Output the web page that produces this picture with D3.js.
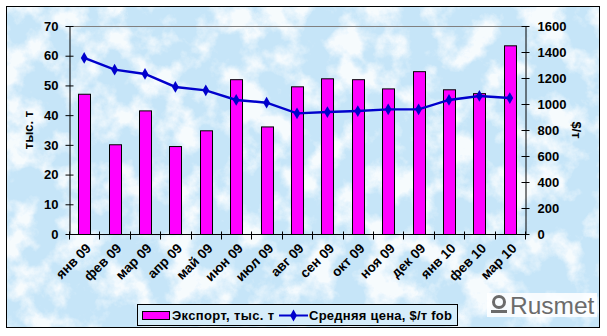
<!DOCTYPE html>
<html>
<head>
<meta charset="utf-8">
<script src="https://cdn.jsdelivr.net/npm/d3@7"></script>
<style>
  html, body { margin: 0; padding: 0; background: #fff; }
  svg { display: block; }
  text { font-family: "Liberation Sans", Arial, sans-serif; }
</style>
</head>
<body>
<svg id="chart" width="607" height="336"></svg>
<script>
// Monthly export volume (thousand tonnes) and average FOB price ($/t)
const months = ["янв 09", "фев 09", "мар 09", "апр 09", "май 09", "июн 09", "июл 09", "авг 09",
                "сен 09", "окт 09", "ноя 09", "дек 09", "янв 10", "фев 10", "мар 10"];
const exportVolume = [47.2, 30.2, 41.6, 29.6, 34.9, 52.1, 36.2, 49.7, 52.4, 52.1, 49.0, 54.8, 48.7, 47.4, 63.5];
const avgPrice = [1354, 1264, 1231, 1131, 1105, 1031, 1010, 928, 938, 946, 959, 959, 1031, 1062, 1046];
const leftTicks = [0, 10, 20, 30, 40, 50, 60, 70];
const rightTicks = [0, 200, 400, 600, 800, 1000, 1200, 1400, 1600];
const seriesNames = ["Экспорт, тыс. т", "Средняя цена, $/т fob"];

const svg = d3.select("#chart");
const frame = { x: 6, y: 6, w: 594, h: 322 };
const plot = { left: 69, right: 525, top: 26, bottom: 234 };

// Background: pale sky blue with soft white mottling
const defs = svg.append("defs");
const f = defs.append("filter").attr("id", "clouds")
  .attr("x", 0).attr("y", 0).attr("width", "100%").attr("height", "100%");
f.append("feTurbulence").attr("type", "fractalNoise")
  .attr("baseFrequency", "0.03").attr("numOctaves", 5).attr("seed", 7).attr("result", "n");
f.append("feColorMatrix").attr("in", "n").attr("type", "matrix")
  .attr("values", "0 0 0 0 1  0 0 0 0 1  0 0 0 0 1  4 0 0 0 -1.75").attr("result", "w");
f.append("feComposite").attr("in", "w").attr("in2", "SourceGraphic").attr("operator", "in");

svg.append("rect").attr("x", frame.x).attr("y", frame.y).attr("width", frame.w).attr("height", frame.h)
  .attr("fill", "#c6e5f8");
svg.append("rect").attr("x", frame.x).attr("y", frame.y).attr("width", frame.w).attr("height", frame.h)
  .attr("fill", "#c6e5f8").attr("filter", "url(#clouds)").attr("opacity", 0.85);
svg.append("rect").attr("x", frame.x + 0.5).attr("y", frame.y + 0.5).attr("width", frame.w - 1).attr("height", frame.h - 1)
  .attr("fill", "none").attr("stroke", "#000").attr("stroke-width", 1);

// Scales
const xc = d3.scalePoint().domain(months).range([plot.left, plot.right]).padding(0.5);
const yL = d3.scaleLinear().domain([0, 70]).range([plot.bottom, plot.top]);
const yR = d3.scaleLinear().domain([0, 1600]).range([plot.bottom, plot.top]);

// Top gridline
svg.append("line").attr("x1", plot.left).attr("x2", plot.right)
  .attr("y1", yL(70) + 0.5).attr("y2", yL(70) + 0.5).attr("stroke", "#808080");

// Bars
const bw = 12;
svg.append("g").selectAll("rect").data(exportVolume).join("rect")
  .attr("x", (d, i) => Math.round(xc(months[i]) - bw / 2) + 0.5)
  .attr("y", d => yL(d) + 0.5)
  .attr("width", bw)
  .attr("height", d => yL(0) - yL(d))
  .attr("fill", "#ff00ff").attr("stroke", "#000").attr("stroke-width", 1);

// Left axis
const axL = svg.append("g").attr("transform", `translate(${plot.left + 0.5},0)`)
  .call(d3.axisLeft(yL).tickValues(leftTicks).tickSizeInner(4).tickSizeOuter(0).tickPadding(7));
axL.selectAll(".tick line").attr("x1", 4);
// Right axis
const axR = svg.append("g").attr("transform", `translate(${plot.right + 0.5},0)`)
  .call(d3.axisRight(yR).tickValues(rightTicks).tickFormat(d3.format("d")).tickSizeInner(4).tickSizeOuter(0).tickPadding(8));
axR.selectAll(".tick line").attr("x1", -4);
// Bottom axis with ticks between categories
const axB = svg.append("g").attr("transform", `translate(0,${plot.bottom + 0.5})`);
axB.append("line").attr("x1", plot.left).attr("x2", plot.right + 1).attr("stroke", "#000");
const step = (plot.right - plot.left) / months.length;
axB.selectAll("line.t").data(d3.range(months.length + 1)).join("line").attr("class", "t")
  .attr("x1", i => Math.round(plot.left + i * step) + 0.5).attr("x2", i => Math.round(plot.left + i * step) + 0.5)
  .attr("y1", -3).attr("y2", 5).attr("stroke", "#000");
axB.selectAll("text").data(months).join("text")
  .attr("transform", d => `translate(${xc(d) + 1},${8}) rotate(-45)`)
  .attr("text-anchor", "end").attr("dy", "0.7em")
  .attr("font-size", 13.5).attr("font-weight", "bold").attr("fill", "#000")
  .text(d => d);

[axL, axR].forEach(a => {
  a.select(".domain").attr("stroke", "#000");
  a.selectAll(".tick line").attr("stroke", "#000");
  a.selectAll("text").attr("font-size", 13).attr("font-weight", "bold").attr("fill", "#000")
    .attr("font-family", "'Liberation Sans', Arial, sans-serif");
});

// Axis titles
svg.append("text").attr("transform", `translate(33,${(plot.top + plot.bottom) / 2}) rotate(-90)`)
  .attr("text-anchor", "middle").attr("font-size", 13).attr("font-weight", "bold").text("тыс. т");
svg.append("text").attr("transform", `translate(572,${(plot.top + plot.bottom) / 2}) rotate(90)`)
  .attr("text-anchor", "middle").attr("font-size", 13).attr("font-weight", "bold").text("$/т");

// Price line
const line = d3.line().x((d, i) => xc(months[i])).y(d => yR(d));
svg.append("path").datum(avgPrice).attr("d", line)
  .attr("fill", "none").attr("stroke", "#0000cc").attr("stroke-width", 2.4);
const diamond = d3.symbol().type(d3.symbolDiamond).size(40);
svg.append("g").selectAll("path").data(avgPrice).join("path")
  .attr("transform", (d, i) => `translate(${xc(months[i])},${yR(d)})`)
  .attr("d", diamond).attr("fill", "#0000cc");

// Legend
const lg = svg.append("g");
lg.append("rect").attr("x", 137.5).attr("y", 304.5).attr("width", 320).attr("height", 21)
  .attr("fill", "#d6edfa").attr("stroke", "#000");
lg.append("rect").attr("x", 142.5).attr("y", 311.5).attr("width", 27).attr("height", 8)
  .attr("fill", "#ff00ff").attr("stroke", "#000");
lg.append("text").attr("x", 172).attr("y", 320).attr("font-size", 13).attr("font-weight", "bold")
  .attr("textLength", 102).text(seriesNames[0]);
lg.append("line").attr("x1", 279).attr("x2", 308).attr("y1", 315.5).attr("y2", 315.5)
  .attr("stroke", "#0000cc").attr("stroke-width", 2);
lg.append("path").attr("transform", "translate(293.5,315.5)").attr("d", diamond).attr("fill", "#0000cc");
lg.append("text").attr("x", 309).attr("y", 320).attr("font-size", 13).attr("font-weight", "bold")
  .attr("textLength", 143).text(seriesNames[1]);

// Rusmet logo
const logo = svg.append("g");
logo.append("rect").attr("x", 487).attr("y", 293).attr("width", 110).attr("height", 24).attr("fill", "#fff").attr("opacity", 0.85);
logo.append("circle").attr("cx", 499).attr("cy", 302).attr("r", 5.5).attr("fill", "none")
  .attr("stroke", "#6b6b6b").attr("stroke-width", 3);
logo.append("rect").attr("x", 491).attr("y", 310).attr("width", 16).attr("height", 3).attr("fill", "#6b6b6b");
logo.append("text").attr("x", 510).attr("y", 314).attr("font-size", 24.5)
  .attr("font-family", "'Open Sans', 'DejaVu Sans', sans-serif").attr("fill", "#6b6b6b").text("Rusmet");
</script>
</body>
</html>
